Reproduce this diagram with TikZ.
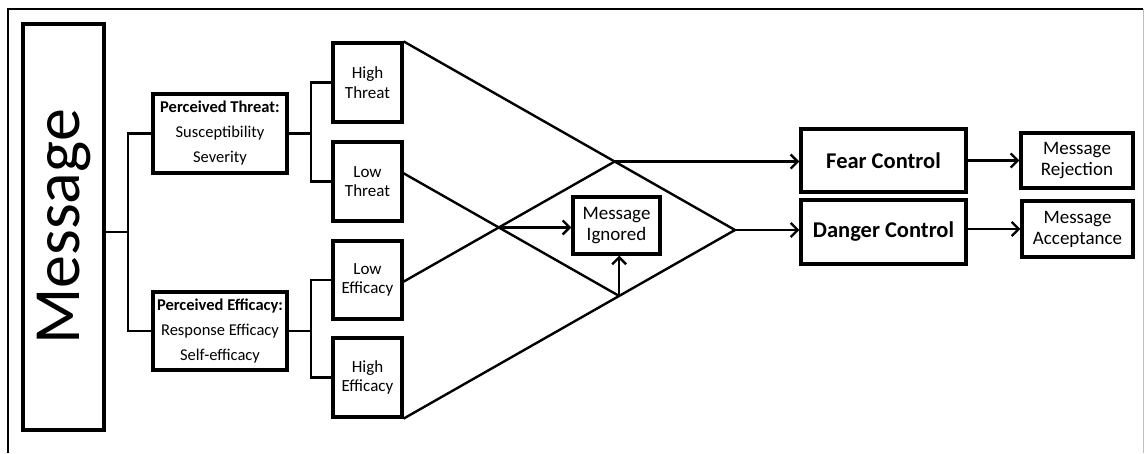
\documentclass[tikz,border=0pt]{standalone}
\usepackage{fontspec}
\setmainfont{Carlito}
\usetikzlibrary{arrows.meta,calc}
\begin{document}
\begin{tikzpicture}[x=1pt,y=-1pt,
  box/.style={draw,line width=3.2pt,rectangle,inner sep=0pt,align=center},
  conn/.style={line width=2.4pt},
  arr/.style={line width=2.4pt,-{Straight Barb[length=7pt,width=14pt,line width=2.4pt]}},
  small/.style={font=\fontsize{17}{19.5}\selectfont},
  mid/.style={font=\fontsize{19}{21}\selectfont},
  big/.style={font=\fontsize{22.5}{24}\selectfont\bfseries}]
\useasboundingbox (0,0) rectangle (1147,453);
% frame
\draw[line width=1.8pt] (8,453) -- (8,9) -- (1143,9);
\draw[line width=1pt,black!25] (1143,9) -- (1143,453);
% nodes
\node[box,rotate=90,minimum width=406pt,minimum height=81pt,
  font=\fontsize{66}{66}\selectfont] (msg) at (63.5,227) {Message};
\node[box,minimum width=134pt,minimum height=79pt,font=\fontsize{16.5}{25}\selectfont] (pt) at (220,133.5)
  {\textbf{Perceived Threat:}\\Susceptibility\\Severity};
\node[box,minimum width=134pt,minimum height=78pt,font=\fontsize{16.5}{25}\selectfont] (pe) at (220,331)
  {\textbf{Perceived Efficacy:}\\Response Efficacy\\Self-efficacy};
\node[box,small,minimum width=69pt,minimum height=79pt] (ht) at (367.5,82.5) {High\\Threat};
\node[box,small,minimum width=69pt,minimum height=79pt] (lt) at (367.5,181.5) {Low\\Threat};
\node[box,small,minimum width=69pt,minimum height=78pt] (le) at (367.5,280) {Low\\Efficacy};
\node[box,small,minimum width=69pt,minimum height=79pt] (he) at (367.5,377.5) {High\\Efficacy};
\node[box,mid,minimum width=87pt,minimum height=57pt] (mi) at (616.5,225.5) {Message\\Ignored};
\node[box,big,minimum width=165pt,minimum height=63pt] (fc) at (883.5,160.5) {Fear Control};
\node[box,big,minimum width=165pt,minimum height=64pt] (dc) at (883.5,232) {Danger Control};
\node[box,mid,minimum width=112pt,minimum height=55pt] (mr) at (1077,160.5) {Message\\Rejection};
\node[box,mid,minimum width=111pt,minimum height=56pt] (ma) at (1077.5,229) {Message\\Acceptance};
% tree connectors
\coordinate (j1) at (128,232);
\draw[conn] (msg.south |- j1) -- (j1);
\draw[conn] (pt.west) -| (j1) |- (pe.west);
\coordinate (j2) at (311,133.5);
\draw[conn] (pt.east) -- (j2);
\draw[conn] (ht.west) -| (j2) |- (lt.west);
\coordinate (j3) at (311,331);
\draw[conn] (pe.east) -- (j3);
\draw[conn] (le.west) -| (j3) |- (he.west);
% diamond
\coordinate (A) at (735,230);
\coordinate (lt0) at ($(lt.north east)!0.4!(lt.south east)$);
\coordinate (le0) at ($(le.north east)!0.52!(le.south east)$);
\coordinate (lt1) at ($(lt0)+(A)-(ht.north east)$);
\coordinate (le1) at ($(le0)+(A)-(he.south east)$);
\coordinate (Phi) at (intersection of le0--le1 and ht.north east--A);
\coordinate (Plo) at (intersection of lt0--lt1 and he.south east--A);
\coordinate (X) at (intersection of lt0--lt1 and le0--le1);
\draw[conn] (ht.north east) -- (A);
\draw[conn] (he.south east) -- (A);
\draw[conn] (lt0) -- (Plo);
\draw[conn] (le0) -- (Phi);
\draw[arr] (X) -- (X -| mi.west);
\draw[arr] (Plo) -- (Plo |- mi.south);
\draw[arr] (Phi) -- (Phi -| fc.west);
\draw[arr] (A) -- (A -| dc.west);
\draw[arr] (fc.east) -- (mr.west);
\draw[arr] (dc.east |- ma.west) -- (ma.west);
\end{tikzpicture}
\end{document}
